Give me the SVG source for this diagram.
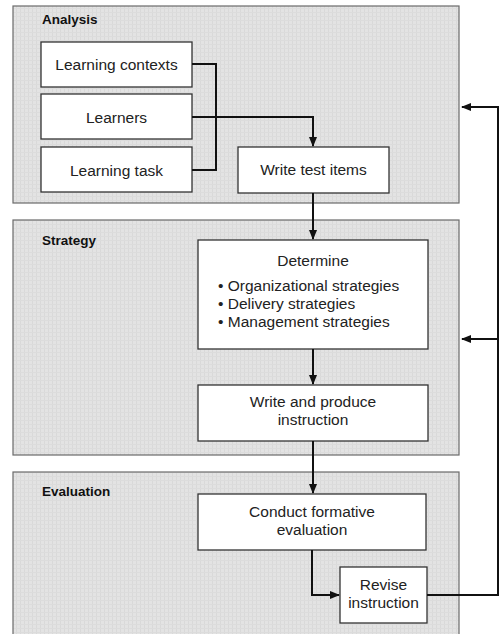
<svg xmlns="http://www.w3.org/2000/svg" width="501" height="634" viewBox="0 0 501 634">
<defs>
<marker id="ah" markerWidth="10" markerHeight="10" refX="9" refY="5" orient="auto" markerUnits="userSpaceOnUse">
<path d="M0,1 L10,5 L0,9 Z" fill="#111"/>
</marker>
<pattern id="tex" width="4" height="4" patternUnits="userSpaceOnUse">
<rect width="4" height="4" fill="#e3e3e3"/>
<rect width="1" height="4" fill="#d9d9d9"/>
<rect width="4" height="1" fill="#dcdcdc"/>
</pattern>
</defs>
<style>
.panel{fill:url(#tex);stroke:#6a6a6a;stroke-width:1.2}
.box{fill:#fff;stroke:#333;stroke-width:1.3}
.t{font-family:"Liberation Sans",Arial,sans-serif;font-size:15.5px;fill:#222;text-anchor:middle}
.tl{font-family:"Liberation Sans",Arial,sans-serif;font-size:15.5px;fill:#222}
.h{font-family:"Liberation Sans",Arial,sans-serif;font-size:13.5px;font-weight:bold;fill:#111}
.c{fill:none;stroke:#111;stroke-width:2}
</style>
<rect width="501" height="634" fill="#fff"/>
<g id="panel-analysis">
<rect class="panel" x="13" y="6" width="446" height="197"/>
<text class="h" x="42" y="24">Analysis</text>
</g>
<g id="panel-strategy">
<rect class="panel" x="13" y="220" width="446" height="235"/>
<text class="h" x="42" y="245">Strategy</text>
</g>
<g id="panel-evaluation">
<rect class="panel" x="13" y="472" width="446" height="170"/>
<text class="h" x="42" y="496">Evaluation</text>
</g>
<g id="learning-contexts">
<rect class="box" x="41" y="42" width="151" height="45"/>
<text class="t" x="116.5" y="70">Learning contexts</text>
</g>
<g id="learners">
<rect class="box" x="41" y="94" width="151" height="45"/>
<text class="t" x="116.5" y="123">Learners</text>
</g>
<g id="learning-task">
<rect class="box" x="41" y="147" width="151" height="45"/>
<text class="t" x="116.5" y="176">Learning task</text>
</g>
<g id="write-test-items">
<rect class="box" x="238" y="147" width="151" height="46"/>
<text class="t" x="313.5" y="175">Write test items</text>
</g>
<g id="determine">
<rect class="box" x="198" y="240" width="230" height="109"/>
<text class="t" x="313" y="266">Determine</text>
<text class="tl" x="218" y="291">• Organizational strategies</text>
<text class="tl" x="218" y="309">• Delivery strategies</text>
<text class="tl" x="218" y="327">• Management strategies</text>
</g>
<g id="write-produce">
<rect class="box" x="198" y="385" width="230" height="56"/>
<text class="t" x="313" y="407">Write and produce</text>
<text class="t" x="313" y="425">instruction</text>
</g>
<g id="conduct-formative">
<rect class="box" x="198" y="494" width="228" height="56"/>
<text class="t" x="312" y="517">Conduct formative</text>
<text class="t" x="312" y="535">evaluation</text>
</g>
<g id="revise-instruction">
<rect class="box" x="340" y="567" width="87" height="56"/>
<text class="t" x="383.5" y="590">Revise</text>
<text class="t" x="383.5" y="608">instruction</text>
</g>
<g id="connectors">
<polyline class="c" points="192,64 216,64 216,170 192,170"/>
<polyline class="c" points="192,117 313,117 313,146" marker-end="url(#ah)"/>
<polyline class="c" points="313,193 313,239" marker-end="url(#ah)"/>
<polyline class="c" points="313,349 313,384" marker-end="url(#ah)"/>
<polyline class="c" points="313,441 313,493" marker-end="url(#ah)"/>
<polyline class="c" points="312,550 312,595 339,595" marker-end="url(#ah)"/>
<polyline class="c" points="427,595 498,595 498,107 462,107" marker-end="url(#ah)"/>
<polyline class="c" points="498,339 462,339" marker-end="url(#ah)"/>
</g>
</svg>
